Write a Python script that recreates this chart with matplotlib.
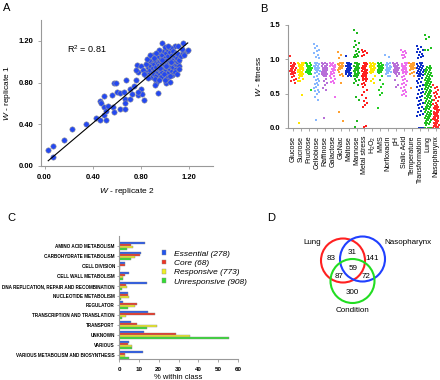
import matplotlib
matplotlib.use("Agg")
import matplotlib.pyplot as plt
from matplotlib.patches import Circle
import numpy as np

plt.rcParams['font.family'] = ['Liberation Sans', 'DejaVu Sans']
plt.rcParams['mathtext.fontset'] = 'custom'
plt.rcParams['mathtext.rm'] = 'Liberation Sans'
plt.rcParams['mathtext.it'] = 'Liberation Sans:italic'

# ---- panel A: replicate fitness (W rep2, W rep1)
rep_pts = [
    (0.03, 0.15), (0.07, 0.19), (0.07, 0.09), (0.16, 0.245), (0.23, 0.355), (0.34, 0.40),
    (0.43, 0.46), (0.46, 0.44), (0.49, 0.49), (0.51, 0.44), (0.46, 0.62), (0.47, 0.60),
    (0.49, 0.565), (0.49, 0.67), (0.51, 0.53), (0.53, 0.58), (0.56, 0.68), (0.57, 0.57),
    (0.58, 0.52), (0.60, 0.71), (0.575, 0.80), (0.59, 0.80), (0.625, 0.55), (0.63, 0.70),
    (0.66, 0.71), (0.67, 0.64), (0.67, 0.60), (0.67, 0.55), (0.68, 0.82), (0.71, 0.74),
    (0.71, 0.64), (0.73, 0.69), (0.74, 0.77), (0.76, 0.82), (0.77, 0.97), (0.78, 0.90),
    (0.76, 0.92), (0.78, 0.68), (0.80, 0.74), (0.81, 0.69), (0.83, 0.63), (0.78, 0.71),
    (0.94, 0.70), (0.93, 0.80), (1.01, 0.80), (1.04, 0.81), (1.06, 0.87), (0.98, 1.18),
    (1.15, 1.18), (1.18, 1.10), (1.19, 1.11), (1.08, 1.15), (1.11, 1.15),
    (0.85, 0.90), (0.86, 0.95), (0.87, 0.88), (0.88, 0.92), (0.88, 0.97), (0.89, 0.85),
    (0.89, 1.00), (0.90, 0.90), (0.90, 0.94), (0.91, 0.88), (0.91, 0.98), (0.92, 0.92),
    (0.92, 1.02), (0.93, 0.86), (0.93, 0.95), (0.94, 0.90), (0.94, 0.99), (0.94, 1.05),
    (0.95, 0.93), (0.95, 0.97), (0.96, 0.88), (0.96, 1.01), (0.96, 1.08), (0.97, 0.92),
    (0.97, 0.96), (0.97, 1.03), (0.98, 0.90), (0.98, 0.99), (0.98, 1.06), (0.99, 0.94),
    (0.99, 1.01), (0.99, 1.10), (1.00, 0.87), (1.00, 0.97), (1.00, 1.04), (1.01, 0.92),
    (1.01, 1.00), (1.01, 1.08), (1.02, 0.95), (1.02, 1.02), (1.02, 1.12), (1.03, 0.89),
    (1.03, 0.98), (1.03, 1.05), (1.04, 0.93), (1.04, 1.01), (1.04, 1.09), (1.05, 0.96),
    (1.05, 1.03), (1.05, 1.13), (1.06, 0.91), (1.06, 0.99), (1.06, 1.06), (1.07, 0.95),
    (1.07, 1.02), (1.07, 1.10), (1.08, 0.98), (1.08, 1.05), (1.09, 0.93), (1.09, 1.01),
    (1.09, 1.08), (1.10, 0.97), (1.10, 1.04), (1.11, 1.00), (1.11, 1.07), (1.12, 1.02),
    (1.12, 0.96), (1.13, 1.05), (0.87, 1.02), (0.90, 1.06), (0.92, 0.83), (0.95, 1.11),
    (0.97, 0.85), (1.00, 1.14), (1.03, 1.15), (1.06, 0.87), (1.08, 0.90), (0.84, 0.86),
    (0.86, 0.84), (0.93, 1.08), (0.99, 0.88), (1.02, 0.84), (1.04, 0.86), (0.80, 0.96),
    (0.82, 0.92), (0.84, 0.98), (0.83, 0.88), (0.85, 1.03), (0.88, 1.06), (0.92, 0.78),
    (0.95, 0.82), (1.00, 0.82), (1.10, 0.88), (1.12, 0.93), (1.15, 1.08), (1.14, 1.12),
    (1.16, 1.06), (0.91, 1.04), (0.96, 0.94), (1.05, 1.00), (0.98, 1.02), (1.01, 0.96),
]
rep2 = [p[0] for p in rep_pts]
rep1 = [p[1] for p in rep_pts]
fit_slope = 0.974
fit_intercept = 0.021
fit_range = [0.03, 1.19]
r2_text = "R$^2$ = 0.81"

# ---- panel B: fitness per condition
conditions = ['Glucose', 'Sucrose', 'Fructose', 'Cellobiose', 'Raffinose', 'Galactose',
              'GlcNac', 'Maltose', 'Mannose', 'Metal stress', 'H$_2$O$_2$', 'MMS',
              'Norfloxacin', 'pH', 'Sialic Acid', 'Temperature', 'Transformation',
              'Lung', 'Nasopharynx']
cond_colors = ['#ff2a2a', '#ffe600', '#22dd22', '#88b8ff', '#b870d8', '#ee70ee',
               '#ffa030', '#1030c8', '#20b820', '#ff2020', '#ffe600', '#22cc22',
               '#88b8ff', '#b870d8', '#ee70ee', '#ffa030', '#1030c8', '#20c020', '#ff2a2a']
fit_glucose = [1.05, 0.95, 0.94, 0.93, 0.92, 0.91, 0.90, 0.89, 0.88, 0.87, 0.86, 0.85, 0.84,
               0.83, 0.82, 0.81, 0.80, 0.79, 0.78, 0.76, 0.74, 0.72, 0.70, 0.68, 0.66]
fit_sucrose = [0.95, 0.94, 0.93, 0.92, 0.91, 0.90, 0.89, 0.88, 0.87, 0.86, 0.85, 0.84, 0.83,
               0.82, 0.81, 0.80, 0.79, 0.78, 0.77, 0.76, 0.75, 0.94, 0.92, 0.90, 0.88, 0.86,
               0.84, 0.82, 0.80, 0.78, 0.76, 0.73, 0.71, 0.69, 0.68, 0.48, 0.08]
fit_fructose = [0.95, 0.94, 0.93, 0.92, 0.91, 0.90, 0.89, 0.88, 0.87, 0.86, 0.85, 0.84, 0.83,
                0.82, 0.81, 0.80, 0.79, 0.78, 0.93, 0.91, 0.89, 0.87, 0.85, 0.83, 0.56]
fit_cellobiose = [1.22, 1.20, 1.17, 1.14, 1.12, 1.09, 1.06, 1.04, 1.02, 0.95, 0.94, 0.93, 0.92,
                  0.91, 0.90, 0.89, 0.88, 0.87, 0.86, 0.85, 0.84, 0.83, 0.82, 0.80, 0.78, 0.76,
                  0.74, 0.72, 0.70, 0.68, 0.66, 0.64, 0.62, 0.60, 0.58, 0.56, 0.54, 0.52, 0.50,
                  0.45, 0.41, 0.12]
fit_raffinose = [0.95, 0.94, 0.93, 0.92, 0.91, 0.90, 0.89, 0.88, 0.87, 0.86, 0.85, 0.84, 0.83,
                 0.82, 0.81, 0.80, 0.79, 0.78, 0.77, 0.76, 0.75, 0.93, 0.90, 0.87, 0.84, 0.81,
                 0.78, 0.72, 0.68, 0.65, 0.62, 0.58, 0.55, 0.14]
fit_galactose = [0.95, 0.94, 0.93, 0.92, 0.91, 0.90, 0.88, 0.86, 0.85, 0.83, 0.82, 0.80, 0.78,
                 0.76, 0.75, 0.73, 0.71, 0.69, 0.67, 0.65, 0.92, 0.89, 0.84, 0.79, 0.45]
fit_glcnac = [1.10, 1.07, 1.02, 0.95, 0.94, 0.93, 0.92, 0.91, 0.90, 0.89, 0.88, 0.87, 0.86,
              0.85, 0.94, 0.92, 0.90, 0.88, 0.81, 0.79, 0.77, 0.75, 0.65, 0.24, 0.10]
fit_maltose = [1.05, 0.95, 0.94, 0.93, 0.92, 0.91, 0.90, 0.89, 0.88, 0.87, 0.86, 0.85, 0.84,
               0.83, 0.82, 0.81, 0.80, 0.79, 0.78, 0.77, 0.76, 0.75, 0.93, 0.90, 0.87, 0.84,
               0.81, 0.78]
fit_mannose = [1.43, 1.38, 1.26, 1.24, 1.21, 1.18, 1.15, 1.12, 1.10, 1.08, 1.07, 1.05, 1.04,
               1.03, 0.95, 0.94, 0.93, 0.92, 0.91, 0.90, 0.89, 0.88, 0.87, 0.86, 0.85, 0.84,
               0.83, 0.82, 0.81, 0.80, 0.79, 0.78, 0.77, 0.76, 0.75, 0.74, 0.72, 0.70, 0.68,
               0.65, 0.62, 0.45, 0.41, 0.10, 0.01]
fit_metal = [1.13, 1.12, 1.10, 1.09, 1.07, 1.05, 0.95, 0.94, 0.93, 0.92, 0.91, 0.90, 0.89,
             0.88, 0.87, 0.86, 0.85, 0.84, 0.83, 0.82, 0.81, 0.80, 0.79, 0.78, 0.77, 0.76,
             0.75, 0.74, 0.73, 0.72, 0.71, 0.70, 0.68, 0.66, 0.64, 0.62, 0.60, 0.56, 0.52,
             0.48, 0.44, 0.40, 0.36, 0.33, 0.30, 0.03, 0.01]
fit_h2o2 = [0.95, 0.94, 0.93, 0.92, 0.91, 0.90, 0.89, 0.88, 0.87, 0.86, 0.85, 0.84, 0.83,
            0.82, 0.81, 0.80, 0.93, 0.91, 0.89, 0.87, 0.85, 0.76, 0.72, 0.69, 0.65]
fit_mms = [0.95, 0.94, 0.93, 0.92, 0.91, 0.90, 0.89, 0.88, 0.87, 0.86, 0.85, 0.84, 0.83,
           0.82, 0.81, 0.80, 0.92, 0.88, 0.84, 0.76, 0.70, 0.64, 0.60, 0.56, 0.51, 0.48, 0.29]
fit_norflox = [1.06, 1.03, 0.95, 0.94, 0.93, 0.92, 0.91, 0.90, 0.89, 0.88, 0.87, 0.86, 0.85,
               0.84, 0.83, 0.82, 0.81, 0.80, 0.78, 0.76, 0.75]
fit_ph = [0.95, 0.94, 0.93, 0.92, 0.91, 0.90, 0.89, 0.88, 0.87, 0.86, 0.85, 0.84, 0.83,
          0.82, 0.81, 0.80, 0.79, 0.78, 0.92, 0.88, 0.84, 0.80, 0.75, 0.70, 0.62, 0.60]
fit_sialic = [1.14, 1.12, 1.10, 1.09, 1.07, 1.06, 1.04, 1.02, 0.95, 0.94, 0.93, 0.92, 0.91,
              0.90, 0.89, 0.88, 0.87, 0.86, 0.85, 0.84, 0.83, 0.82, 0.81, 0.80, 0.78, 0.76,
              0.74, 0.72, 0.70, 0.68, 0.66, 0.64, 0.62, 0.60, 0.58, 0.56, 0.54, 0.52, 0.50,
              0.48, 0.46]
fit_temp = [0.95, 0.94, 0.93, 0.92, 0.91, 0.90, 0.89, 0.88, 0.87, 0.86, 0.85, 0.94, 0.92,
            0.90, 0.88, 0.86, 0.82, 0.80, 0.78, 0.76, 0.58]
fit_transf = [1.20, 1.18, 1.15, 1.13, 1.11, 1.10, 1.08, 1.06, 1.05, 1.03, 1.02, 0.95, 0.94,
              0.93, 0.92, 0.91, 0.90, 0.89, 0.88, 0.87, 0.86, 0.85, 0.84, 0.83, 0.82, 0.81,
              0.80, 0.79, 0.78, 0.77, 0.76, 0.75, 0.73, 0.71, 0.69, 0.67, 0.65, 0.63, 0.61,
              0.59, 0.57, 0.55, 0.53, 0.51, 0.49, 0.47, 0.45, 0.43, 0.41, 0.39, 0.37, 0.35,
              0.33, 0.31, 0.29, 0.27, 0.25, 0.23, 0.21, 0.19, 0.17, 0.00, 0.00, 0.00, 0.00]
fit_lung = [1.35, 1.33, 1.29, 1.16, 1.14, 1.13, 0.90, 0.89, 0.88, 0.87, 0.86, 0.85, 0.84,
            0.83, 0.82, 0.81, 0.80, 0.79, 0.78, 0.77, 0.76, 0.75, 0.74, 0.73, 0.72, 0.71,
            0.70, 0.69, 0.68, 0.67, 0.66, 0.65, 0.64, 0.63, 0.62, 0.61, 0.60, 0.59, 0.58,
            0.57, 0.56, 0.55, 0.54, 0.53, 0.52, 0.51, 0.50, 0.49, 0.48, 0.47, 0.46, 0.45,
            0.44, 0.43, 0.42, 0.41, 0.40, 0.39, 0.38, 0.37, 0.36, 0.35, 0.34, 0.33, 0.32,
            0.31, 0.30, 0.29, 0.28, 0.27, 0.26, 0.25, 0.24, 0.23, 0.22, 0.21, 0.20, 0.19,
            0.18, 0.17, 0.16, 0.15, 0.14, 0.13, 0.12, 0.11, 0.10, 0.09, 0.08, 0.07, 0.06,
            0.05, 0.00, 0.00, 0.00, 0.00]
fit_naso = [0.62, 0.60, 0.58, 0.55, 0.53, 0.51, 0.49, 0.47, 0.45, 0.43, 0.41, 0.39, 0.37,
            0.35, 0.33, 0.32, 0.31, 0.30, 0.29, 0.28, 0.27, 0.26, 0.25, 0.24, 0.23, 0.22,
            0.21, 0.20, 0.19, 0.18, 0.17, 0.16, 0.15, 0.14, 0.13, 0.12, 0.11, 0.10, 0.09,
            0.08, 0.07, 0.06, 0.05, 0.04, 0.03, 0.02, 0.01, 0.00]
cond_values = [fit_glucose, fit_sucrose, fit_fructose, fit_cellobiose, fit_raffinose,
               fit_galactose, fit_glcnac, fit_maltose, fit_mannose, fit_metal, fit_h2o2,
               fit_mms, fit_norflox, fit_ph, fit_sialic, fit_temp, fit_transf, fit_lung, fit_naso]

# ---- panel C: functional classes
func_classes = ['AMINO ACID METABOLISM', 'CARBOHYDRATE METABOLISM', 'CELL DIVISION',
                'CELL WALL METABOLISM', 'DNA REPLICATION, REPAIR AND RECOMBINATION',
                'NUCLEOTIDE METABOLISM', 'REGULATOR', 'TRANSCRIPTION AND TRANSLATION',
                'TRANSPORT', 'UNKNOWN', 'VARIOUS', 'VARIOUS METABOLISM AND BIOSYNTHESIS']
pct_essential = [13, 11, 3, 5, 14, 4.5, 2, 14.5, 6, 12.5, 5, 12]
pct_core = [6, 10.5, 3, 3, 3.5, 4.5, 9, 18, 9, 28.5, 4.5, 3]
pct_responsive = [7, 8, 0.3, 2, 4, 5, 8, 3.5, 19, 36, 6.5, 3]
pct_unresponsive = [4, 6, 0.5, 2, 1.5, 1, 4.5, 1.5, 14, 55.5, 6.5, 5]
class_labels = ['Essential (278)', 'Core (68)', 'Responsive (773)', 'Unresponsive (908)']
class_colors = ['#2255ee', '#ee3322', '#eeee22', '#33dd33']

# ---- panel D: venn counts
venn_counts = {'lung': 83, 'naso': 141, 'cond': 300, 'lung_naso': 31,
               'lung_cond': 87, 'naso_cond': 72, 'all': 59}

W, H = 440, 380
fig = plt.figure(figsize=(4.4, 3.8), dpi=100)


def box(l, t, r, b):
    return [l / W, 1 - b / H, (r - l) / W, (b - t) / H]


def style_axis(ax):
    for s in ['top', 'right']:
        ax.spines[s].set_visible(False)
    for s in ['left', 'bottom']:
        ax.spines[s].set_color('#999999')
        ax.spines[s].set_linewidth(0.8)
    ax.tick_params(colors='#999999', length=2, width=0.6, labelcolor='black')


# A
axA = fig.add_axes(box(41, 20, 213, 166))
axA.scatter(rep2, rep1, s=15, c='#2448f0', edgecolors='#9a9a9a', linewidths=0.4, zorder=2)
lx = np.array(fit_range)
axA.plot(lx, fit_slope * lx + fit_intercept, color='black', lw=0.8, zorder=3)
axA.text(0.19, 1.08, r2_text, fontsize=6.5)
axA.set_xlim(-0.03, 1.40)
axA.set_ylim(0, 1.40)
axA.set_xticks([0, 0.4, 0.8, 1.2])
axA.set_xticklabels(['0.00', '0.40', '0.80', '1.20'], fontsize=5.5, fontweight='bold')
axA.set_yticks([0, 0.4, 0.8, 1.2])
axA.set_yticklabels(['0.00', '0.40', '0.80', '1.20'], fontsize=5.5, fontweight='bold')
style_axis(axA)
axA.set_xlabel(r'$\mathit{W}$ - replicate 2', fontsize=6, labelpad=4)
axA.set_ylabel(r'$\mathit{W}$ - replicate 1', fontsize=6, labelpad=4)

# B
axB = fig.add_axes(box(288, 25, 440, 128))
for i, (vals, col) in enumerate(zip(cond_values, cond_colors)):
    n = len(vals)
    width = 0.9 if n > 60 else 0.72
    offs = ((np.arange(n) * 0.618034) % 1 - 0.5) * width
    axB.scatter(i + offs, vals, s=4, marker='s', c=col, linewidths=0, clip_on=False)
axB.set_xlim(-0.625, 18.5)
axB.set_ylim(0, 1.5)
axB.set_xticks(range(len(conditions)))
axB.set_xticklabels(conditions, rotation=90, fontsize=5)
axB.set_yticks([0, 0.5, 1.0, 1.5])
axB.set_yticklabels(['0.0', '0.5', '1.0', '1.5'], fontsize=5.5, fontweight='bold')
style_axis(axB)
axB.set_ylabel(r'$\mathit{W}$ - fitness', fontsize=6, labelpad=5)

# C
axC = fig.add_axes(box(119, 236, 238, 359))
yy = np.arange(len(func_classes))
bars = []
for k, (vals, col) in enumerate(zip([pct_essential, pct_core, pct_responsive, pct_unresponsive],
                                    class_colors)):
    b = axC.barh(yy + (k - 1.5) * 0.2, vals, height=0.2, color=col,
                 edgecolor='#8a8a8a', linewidth=0.3)
    bars.append(b)
axC.set_ylim(11.45, -1.06)
axC.set_xlim(0, 60)
axC.set_yticks(yy)
axC.set_yticklabels(func_classes, fontsize=3.3, fontweight='bold',
                    family=['Liberation Sans Narrow', 'Liberation Sans'])
axC.set_xticks(range(0, 61, 10))
axC.set_xticklabels([str(v) for v in range(0, 61, 10)], fontsize=4.5, fontweight='bold')
style_axis(axC)
axC.tick_params(axis='y', length=1.5, pad=1.5)
axC.set_xlabel('% within class', fontsize=5.5, labelpad=2)
fig.legend(bars, class_labels, loc='upper left', bbox_to_anchor=(158 / W, 1 - 246 / H),
           frameon=False, prop={'size': 6, 'style': 'italic'}, handlelength=0.5,
           handleheight=0.5, labelspacing=0.25, handletextpad=0.9, borderpad=0)

# D
axD = fig.add_axes(box(260, 200, 440, 380))
axD.set_xlim(260, 440)
axD.set_ylim(380, 200)
axD.axis('off')
for (cx, cy, r, col) in [(343, 260.5, 22, '#ff2020'), (362.5, 259, 22.5, '#2040ff'),
                         (352.5, 281, 22, '#22dd22')]:
    axD.add_patch(Circle((cx, cy), r, fill=False, edgecolor=col, lw=1.5))
for key, (px, py) in {'lung': (331, 258), 'lung_naso': (352, 253), 'naso': (372, 258),
                      'all': (353, 269), 'lung_cond': (339, 276), 'naso_cond': (366, 276),
                      'cond': (352, 292)}.items():
    axD.text(px, py, str(venn_counts[key]), fontsize=5.8, ha='center', va='center')
axD.text(312, 243, 'Lung', fontsize=5.8, ha='center', va='center')
axD.text(408, 243, 'Nasopharynx', fontsize=5.8, ha='center', va='center')
axD.text(352, 311, 'Condition', fontsize=5.8, ha='center', va='center')

for lab, px, py in [('A', 3, 3), ('B', 260, 4), ('C', 7, 213), ('D', 267, 213)]:
    fig.text(px / W, 1 - py / H, lab, fontsize=8, va='top', ha='left')

fig.savefig('out.png', dpi=100)
